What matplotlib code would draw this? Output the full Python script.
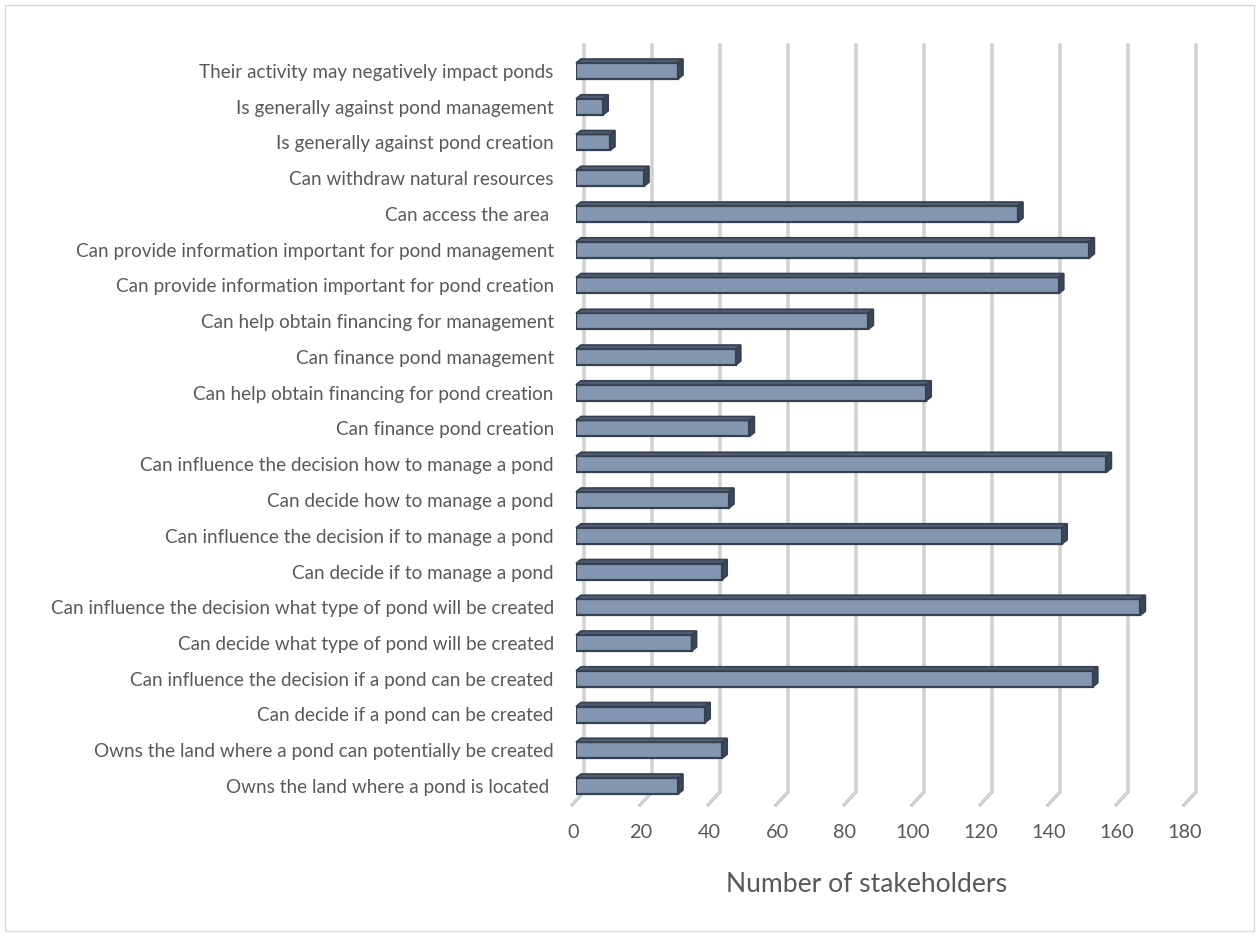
import matplotlib
matplotlib.use('Agg')
import matplotlib.pyplot as plt
from matplotlib.patches import Polygon, Rectangle
from matplotlib.lines import Line2D
from matplotlib.transforms import IdentityTransform, ScaledTranslation

# categories from bottom to top, as in the chart
categories = [
    "Owns the land where a pond is located ",
    "Owns the land where a pond can potentially be created",
    "Can decide if a pond can be created",
    "Can influence the decision if a pond can be created",
    "Can decide what type of pond will be created",
    "Can influence the decision what type of pond will be created",
    "Can decide if to manage a pond",
    "Can influence the decision if to manage a pond",
    "Can decide how to manage a pond",
    "Can influence the decision how to manage a pond",
    "Can finance pond creation",
    "Can help obtain financing for pond creation",
    "Can finance pond management",
    "Can help obtain financing for management",
    "Can provide information important for pond creation",
    "Can provide information important for pond management",
    "Can access the area ",
    "Can withdraw natural resources",
    "Is generally against pond creation",
    "Is generally against pond management",
    "Their activity may negatively impact ponds",
]
values = [30, 43, 38, 152, 34, 166, 43, 143, 45, 156, 51, 103, 47, 86, 142, 151, 130, 20, 10, 8, 30]
ticks = [0, 20, 40, 60, 80, 100, 120, 140, 160, 180]
xlabel = "Number of stakeholders"

plt.rcParams['font.family'] = ['Lato', 'DejaVu Sans']
text_color = '#595959'
front_color = '#8497b0'
top_color = '#4e5d72'
side_color = '#3a4659'
edge_color = '#36404f'

W, H = 1259, 936
fig = plt.figure(figsize=(W / 100, H / 100), dpi=100)

# plot area in pixels (top-left origin)
left_px, right_px = 576, 576 + 180 * 3.4
top_px, bottom_px = 45, 805
ax = fig.add_axes([left_px / W, (H - bottom_px) / H,
                   (right_px - left_px) / W, (bottom_px - top_px) / H])

step = 35.75
ax.set_xlim(0, 180)
ax.set_ylim(-(bottom_px - 786) / step, (786 - top_px) / step)
for s in ax.spines.values():
    s.set_visible(False)

pos = list(range(len(categories)))
bar_h = 16 / step
ax.barh(pos, values, height=bar_h, color=front_color, edgecolor=edge_color,
        linewidth=1.6, zorder=5)

ax.set_yticks(pos)
ax.set_yticklabels(categories, fontsize=13.6, color=text_color)
ax.set_xticks(ticks)
ax.set_xticklabels([str(t) for t in ticks], fontsize=14.3, color=text_color)
ax.tick_params(axis='y', length=0, pad=16)
ax.tick_params(axis='x', length=0, pad=14)
shift = ScaledTranslation(-3 / 100, 0, fig.dpi_scale_trans)
for lab in ax.get_xticklabels():
    lab.set_transform(lab.get_transform() + shift)

fig.canvas.draw()
to_px = ax.transData.transform
ident = IdentityTransform()

# back wall gridlines with the slanted floor part
y_floor_back = H - 792
y_floor_front = H - 805
y_top = H - top_px
for t in ticks:
    x0, _ = to_px((t, 0))
    xs = [x0 + 8, x0 + 8, x0 - 4]
    ys = [y_top, y_floor_back, y_floor_front]
    ax.add_line(Line2D(xs, ys, transform=ident, color='#bdbdbd', lw=2.2,
                       zorder=1, clip_on=False))
    ax.add_line(Line2D(xs, ys, transform=ident, color='#ededed', lw=0.6,
                       zorder=1.1, clip_on=False))

# 3d top and side faces of each bar
dx, dy = 5, 4
for p, v in zip(pos, values):
    (xl, yb) = to_px((0, p - bar_h / 2))
    (xr, yt) = to_px((v, p + bar_h / 2))
    top = Polygon([(xl, yt), (xr, yt), (xr + dx, yt + dy), (xl + dx, yt + dy)],
                  closed=True, transform=ident, facecolor=top_color,
                  edgecolor=edge_color, lw=1.2, zorder=6, clip_on=False)
    side = Polygon([(xr, yb), (xr, yt), (xr + dx, yt + dy), (xr + dx, yb + dy)],
                   closed=True, transform=ident, facecolor=side_color,
                   edgecolor=edge_color, lw=1.2, zorder=6, clip_on=False)
    ax.add_patch(top)
    ax.add_patch(side)

fig.text(867 / W, 1 - 885 / H, xlabel, fontsize=19.1, color=text_color,
         ha='center', va='center')

fig.add_artist(Rectangle((5 / W, 5 / H), (W - 10) / W, (H - 10) / H,
                         transform=fig.transFigure, fill=False,
                         edgecolor='#d9d9d9', lw=1))

fig.savefig('out.png', dpi=100)
